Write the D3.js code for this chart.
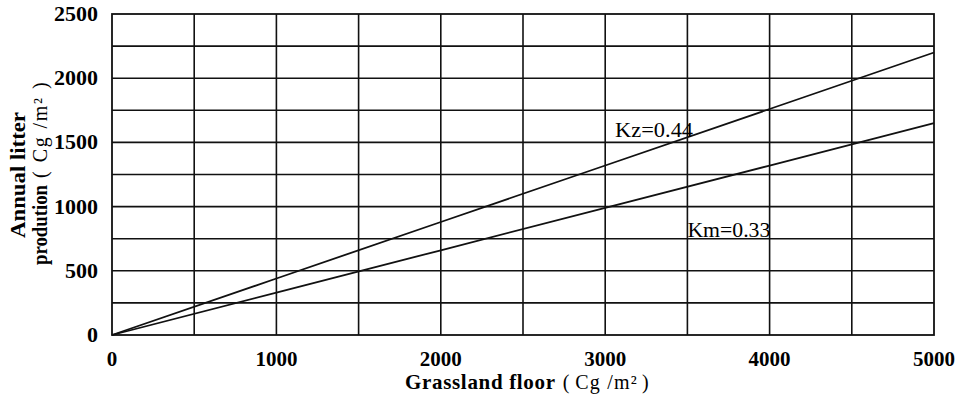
<!DOCTYPE html>
<html>
<head>
<meta charset="utf-8">
<script src="https://cdn.jsdelivr.net/npm/d3@7"></script>
<style>
  body { margin: 0; background: #fff; }
  svg { display: block; }
</style>
</head>
<body>
<svg id="chart"></svg>
<script>
// Values
const floorValues = [0, 1000, 2000, 3000, 4000, 5000];
const kzLitter = [0, 440, 880, 1320, 1760, 2200];
const kmLitter = [0, 330, 660, 990, 1320, 1650];
const xTickLabels = [0, 1000, 2000, 3000, 4000, 5000];
const yTickLabels = [0, 500, 1000, 1500, 2000, 2500];
const xGrid = [500, 1000, 1500, 2000, 2500, 3000, 3500, 4000, 4500];
const yGrid = [250, 500, 750, 1000, 1250, 1500, 1750, 2000, 2250];
const seriesNames = ["Kz=0.44", "Km=0.33"];

const width = 966, height = 397;
const margin = {top: 14, right: 32, bottom: 62, left: 112};

const svg = d3.select("#chart")
  .attr("width", width)
  .attr("height", height)
  .style("background", "#fff");

const x = d3.scaleLinear().domain([0, 5000]).range([margin.left, width - margin.right]);
const y = d3.scaleLinear().domain([0, 2500]).range([height - margin.bottom, margin.top]);

const serif = "'Liberation Serif', 'Times New Roman', serif";

// grid
svg.append("g")
  .selectAll("line")
  .data(xGrid)
  .enter()
  .append("line")
    .attr("x1", d => x(d)).attr("x2", d => x(d))
    .attr("y1", y(0)).attr("y2", y(2500))
    .style("stroke", "#111")
    .style("stroke-width", 1.6);

svg.append("g")
  .selectAll("line")
  .data(yGrid)
  .enter()
  .append("line")
    .attr("x1", x(0)).attr("x2", x(5000))
    .attr("y1", d => y(d)).attr("y2", d => y(d))
    .style("stroke", "#111")
    .style("stroke-width", 1.6);

// frame
svg.append("rect")
  .attr("x", x(0))
  .attr("y", y(2500))
  .attr("width", x(5000) - x(0))
  .attr("height", y(0) - y(2500))
  .style("fill", "none")
  .style("stroke", "#111")
  .style("stroke-width", 1.8);

// the two lines
const line = d3.line()
  .x((d, i) => x(floorValues[i]))
  .y(d => y(d));

[kzLitter, kmLitter].forEach(s => {
  svg.append("path")
    .attr("d", line(s))
    .style("fill", "none")
    .style("stroke", "#111")
    .style("stroke-width", 1.8);
});

// line labels
svg.append("text")
  .attr("x", x(3060))
  .attr("y", y(1545))
  .attr("font-family", serif)
  .attr("font-size", 22)
  .attr("textLength", 78)
  .attr("lengthAdjust", "spacingAndGlyphs")
  .text(seriesNames[0]);

svg.append("text")
  .attr("x", x(3500))
  .attr("y", y(765))
  .attr("font-family", serif)
  .attr("font-size", 22)
  .attr("textLength", 83)
  .attr("lengthAdjust", "spacingAndGlyphs")
  .text(seriesNames[1]);

// tick labels
svg.append("g")
  .selectAll("text")
  .data(xTickLabels)
  .enter()
  .append("text")
    .attr("x", d => x(d))
    .attr("y", 366)
    .attr("text-anchor", "middle")
    .attr("font-family", serif)
    .attr("font-weight", "bold")
    .attr("font-size", 21)
    .text(d => d);

svg.append("g")
  .selectAll("text")
  .data(yTickLabels)
  .enter()
  .append("text")
    .attr("x", 98)
    .attr("y", d => y(d) + 7)
    .attr("text-anchor", "end")
    .attr("font-family", serif)
    .attr("font-weight", "bold")
    .attr("font-size", 22)
    .text(d => d);

// unit "(Cg /m²)" built from pieces so the brackets sit apart like the original
function unit(sel, gap) {
  sel.append("tspan").attr("dx", 7).attr("font-size", 20).text("(");
  sel.append("tspan").attr("dx", gap).attr("font-size", 20)
    .attr("letter-spacing", gap / 5).text("Cg /m²");
  sel.append("tspan").attr("dx", gap - 2).attr("font-size", 20).text(")");
}

// x title
const xt = svg.append("text")
  .attr("x", 405)
  .attr("y", 389)
  .attr("font-family", serif)
  .attr("font-size", 21);
xt.append("tspan").attr("font-weight", "bold")
  .attr("textLength", 150).attr("lengthAdjust", "spacing")
  .text("Grassland floor");
unit(xt, 6);

// y title, two rotated lines
svg.append("text")
  .attr("transform", "translate(25,238) rotate(-90)")
  .attr("font-family", serif)
  .attr("font-weight", "bold")
  .attr("font-size", 22)
  .attr("textLength", 126)
  .attr("lengthAdjust", "spacingAndGlyphs")
  .text("Annual litter");

const yt = svg.append("text")
  .attr("transform", "translate(47,265) rotate(-90)")
  .attr("font-family", serif)
  .attr("font-size", 22);
yt.append("tspan").attr("font-weight", "bold")
  .attr("textLength", 80).attr("lengthAdjust", "spacingAndGlyphs")
  .text("prodution");
unit(yt, 9);
</script>
</body>
</html>
